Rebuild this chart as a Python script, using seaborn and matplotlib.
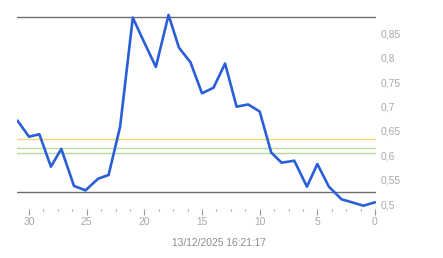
import matplotlib
matplotlib.use("Agg")
import matplotlib.pyplot as plt
import seaborn as sns
import pandas as pd
from matplotlib.ticker import MultipleLocator, FuncFormatter

# ---- data ----
days_ago = [31.0, 30.0, 29.1, 28.1, 27.2, 26.1, 25.1, 24.0, 23.1, 22.1, 21.0, 20.0,
            19.0, 17.9, 17.0, 16.0, 15.0, 14.0, 13.0, 12.0, 11.0, 10.0, 9.0, 8.1,
            7.0, 5.9, 5.0, 4.0, 2.9, 2.0, 1.0, 0.0]
price = [0.671, 0.638, 0.643, 0.5765, 0.613, 0.537, 0.528, 0.552, 0.5595, 0.6585, 0.882, 0.831,
         0.781, 0.8876, 0.8206, 0.7906, 0.727, 0.7385, 0.7881, 0.6995, 0.7041, 0.6897, 0.6056, 0.5847,
         0.5888, 0.5355, 0.582, 0.5355, 0.5096, 0.5035, 0.4965, 0.5035]
level_dark = [0.8835, 0.5256]
level_yellow = [0.6333]
level_green = [0.6148, 0.6036]
y_ticks = [0.5, 0.55, 0.6, 0.65, 0.7, 0.75, 0.8, 0.85]
x_ticks = [0, 5, 10, 15, 20, 25, 30]
timestamp = "13/12/2025 16:21:17"

df = pd.DataFrame({"days": days_ago, "price": price})

sns.set_style("white")
plt.rcParams["font.family"] = ["Liberation Sans", "DejaVu Sans"]

W, H = 443, 258
fig = plt.figure(figsize=(W / 100, H / 100), dpi=100)
left, right, top, bottom = 17, 376, 8, 209
ax = fig.add_axes([left / W, 1 - bottom / H, (right - left) / W, (bottom - top) / H])

for v in level_dark:
    ax.axhline(v, color="#6e6e6e", lw=1.0, zorder=1)
for v in level_yellow:
    ax.axhline(v, color="#ecd77a", lw=1.0, zorder=1)
for v in level_green:
    ax.axhline(v, color="#b2e09a", lw=1.0, zorder=1)

sns.lineplot(data=df, x="days", y="price", ax=ax, color="#2a5fd8", lw=1.9,
             sort=False, zorder=3)

# y scale: 0.5 at px 204, 0.85 at px 33.3
ppu = (204 - 33.3) / 0.35
ax.set_ylim(0.5 - (bottom - 204) / ppu, 0.5 + (204 - top) / ppu)
# x scale: 30 at px 29, 0 at px 375 (reversed)
xppu = (375 - 29) / 30.0
ax.set_xlim((375 - left) / xppu, -(right - 375) / xppu)

for s in ax.spines.values():
    s.set_visible(False)

ax.set_xlabel("")
ax.set_ylabel("")
ax.set_xticks(x_ticks)
ax.set_xticklabels([str(t) for t in x_ticks])
ax.xaxis.set_minor_locator(MultipleLocator(1.25))
ax.tick_params(axis="x", which="major", bottom=True, length=4, width=0.8,
               color="#9a9a9a", pad=2, labelsize=7.4, labelcolor="#a8a8a8")
ax.tick_params(axis="x", which="minor", bottom=True, length=1.5, width=0.8,
               color="#9a9a9a")

ax.yaxis.tick_right()
ax.set_yticks(y_ticks)
ax.yaxis.set_major_formatter(FuncFormatter(lambda v, p: f"{v:g}".replace(".", ",")))
ax.tick_params(axis="y", which="both", right=False, left=False, length=0, pad=3,
               labelsize=7.4, labelcolor="#a8a8a8")
ax.grid(False)

fig.text(219.5 / W, 1 - 243.3 / H, timestamp, ha="center", va="center",
         fontsize=7.4, color="#8c8c8c")

fig.savefig("out.png", dpi=100)
